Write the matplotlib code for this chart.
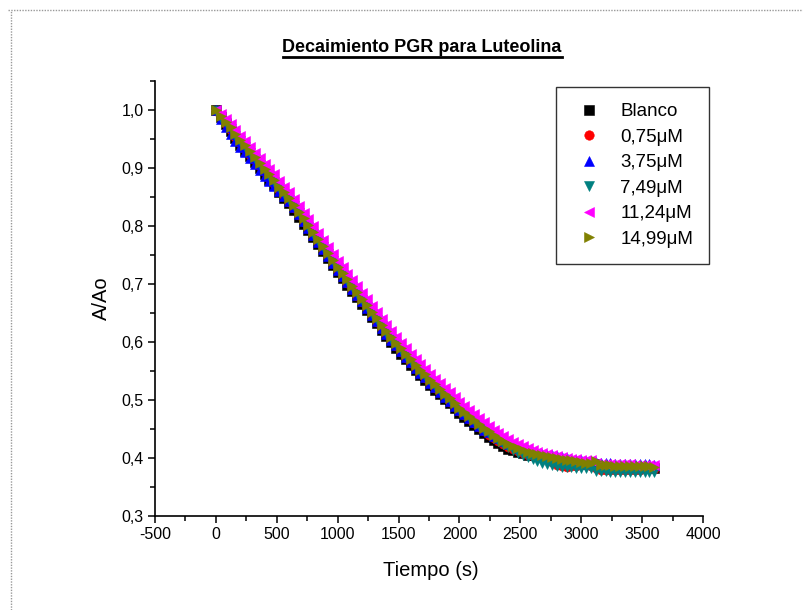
import numpy as np
import matplotlib
matplotlib.use('Agg')
import matplotlib.pyplot as plt
from matplotlib.lines import Line2D
from matplotlib.ticker import MultipleLocator, FuncFormatter

plt.rcParams['font.family'] = ['Liberation Sans', 'DejaVu Sans']

# ---- data ----
tiempo = np.arange(0, 3601, 40)

blanco = [1.000, 0.988, 0.976, 0.964, 0.952, 0.940, 0.930, 0.920, 0.910, 0.900,
          0.890, 0.880, 0.870, 0.859, 0.849, 0.839, 0.828, 0.816, 0.804, 0.793,
          0.781, 0.769, 0.757, 0.745, 0.733, 0.721, 0.710, 0.699, 0.688, 0.677,
          0.666, 0.655, 0.643, 0.632, 0.621, 0.610, 0.600, 0.590, 0.580, 0.570,
          0.561, 0.552, 0.543, 0.535, 0.526, 0.518, 0.510, 0.502, 0.494, 0.486,
          0.478, 0.471, 0.464, 0.457, 0.450, 0.443, 0.437, 0.431, 0.426, 0.421,
          0.416, 0.413, 0.410, 0.408, 0.406, 0.405, 0.404, 0.403, 0.401, 0.400,
          0.398, 0.396, 0.395, 0.394, 0.392, 0.391, 0.390, 0.390, 0.389, 0.386,
          0.386, 0.386, 0.385, 0.385, 0.385, 0.385, 0.384, 0.384, 0.384, 0.384,
          0.383]
c075 = [0.999, 0.988, 0.976, 0.965, 0.953, 0.943, 0.933, 0.923, 0.913, 0.903,
        0.893, 0.883, 0.873, 0.862, 0.852, 0.842, 0.831, 0.819, 0.807, 0.796,
        0.784, 0.772, 0.760, 0.748, 0.736, 0.724, 0.713, 0.702, 0.691, 0.680,
        0.669, 0.658, 0.646, 0.635, 0.624, 0.613, 0.603, 0.593, 0.583, 0.573,
        0.564, 0.555, 0.546, 0.538, 0.529, 0.521, 0.513, 0.505, 0.497, 0.489,
        0.481, 0.474, 0.467, 0.460, 0.453, 0.446, 0.440, 0.434, 0.429, 0.424,
        0.419, 0.415, 0.412, 0.409, 0.406, 0.404, 0.402, 0.400, 0.398, 0.393,
        0.388, 0.386, 0.385, 0.386, 0.387, 0.388, 0.388, 0.387, 0.382, 0.380,
        0.380, 0.379, 0.380, 0.380, 0.380, 0.380, 0.380, 0.380, 0.381, 0.381,
        0.381]
c375 = [1.000, 0.984, 0.970, 0.958, 0.947, 0.937, 0.927, 0.917, 0.907, 0.897,
        0.887, 0.878, 0.869, 0.860, 0.851, 0.843, 0.832, 0.820, 0.808, 0.797,
        0.785, 0.773, 0.761, 0.749, 0.737, 0.725, 0.714, 0.703, 0.692, 0.681,
        0.670, 0.659, 0.647, 0.636, 0.625, 0.614, 0.604, 0.594, 0.584, 0.574,
        0.565, 0.556, 0.547, 0.539, 0.530, 0.522, 0.514, 0.506, 0.498, 0.490,
        0.482, 0.476, 0.469, 0.462, 0.456, 0.449, 0.444, 0.438, 0.434, 0.429,
        0.425, 0.422, 0.418, 0.416, 0.413, 0.411, 0.409, 0.407, 0.406, 0.405,
        0.403, 0.401, 0.400, 0.399, 0.397, 0.396, 0.395, 0.395, 0.393, 0.391,
        0.391, 0.391, 0.390, 0.390, 0.390, 0.390, 0.390, 0.389, 0.389, 0.389,
        0.388]
c749 = [0.998, 0.987, 0.977, 0.967, 0.956, 0.946, 0.936, 0.926, 0.916, 0.906,
        0.896, 0.886, 0.876, 0.865, 0.855, 0.845, 0.834, 0.822, 0.810, 0.799,
        0.787, 0.775, 0.763, 0.751, 0.739, 0.727, 0.716, 0.705, 0.694, 0.683,
        0.672, 0.661, 0.649, 0.638, 0.627, 0.616, 0.606, 0.596, 0.586, 0.576,
        0.567, 0.558, 0.549, 0.541, 0.532, 0.524, 0.516, 0.508, 0.500, 0.492,
        0.484, 0.477, 0.470, 0.463, 0.456, 0.449, 0.442, 0.436, 0.430, 0.424,
        0.419, 0.414, 0.409, 0.405, 0.401, 0.398, 0.395, 0.392, 0.390, 0.388,
        0.386, 0.385, 0.384, 0.384, 0.383, 0.383, 0.383, 0.382, 0.378, 0.377,
        0.377, 0.376, 0.376, 0.376, 0.376, 0.376, 0.376, 0.376, 0.376, 0.376,
        0.376]
c1124 = [1.000, 0.993, 0.985, 0.976, 0.966, 0.956, 0.946, 0.936, 0.926, 0.917,
         0.907, 0.898, 0.889, 0.878, 0.868, 0.858, 0.847, 0.835, 0.823, 0.812,
         0.800, 0.788, 0.776, 0.764, 0.752, 0.740, 0.729, 0.718, 0.707, 0.696,
         0.685, 0.674, 0.662, 0.651, 0.640, 0.629, 0.619, 0.609, 0.599, 0.589,
         0.580, 0.571, 0.562, 0.554, 0.545, 0.537, 0.529, 0.521, 0.513, 0.505,
         0.497, 0.490, 0.483, 0.476, 0.469, 0.462, 0.455, 0.449, 0.443, 0.438,
         0.433, 0.428, 0.424, 0.420, 0.417, 0.414, 0.411, 0.409, 0.407, 0.405,
         0.403, 0.401, 0.400, 0.399, 0.398, 0.397, 0.396, 0.396, 0.391, 0.390,
         0.390, 0.390, 0.389, 0.389, 0.389, 0.389, 0.388, 0.388, 0.388, 0.388,
         0.388]
c1499 = [1.000, 0.990, 0.980, 0.970, 0.959, 0.949, 0.939, 0.929, 0.919, 0.909,
         0.899, 0.889, 0.879, 0.868, 0.858, 0.848, 0.837, 0.825, 0.813, 0.802,
         0.790, 0.778, 0.766, 0.754, 0.742, 0.730, 0.719, 0.708, 0.697, 0.686,
         0.675, 0.664, 0.652, 0.641, 0.630, 0.619, 0.609, 0.599, 0.589, 0.579,
         0.570, 0.561, 0.552, 0.544, 0.535, 0.527, 0.519, 0.511, 0.503, 0.495,
         0.487, 0.480, 0.473, 0.466, 0.459, 0.452, 0.446, 0.440, 0.435, 0.430,
         0.425, 0.421, 0.417, 0.414, 0.411, 0.409, 0.407, 0.405, 0.403, 0.402,
         0.400, 0.398, 0.397, 0.396, 0.394, 0.393, 0.392, 0.392, 0.394, 0.388,
         0.388, 0.388, 0.387, 0.387, 0.387, 0.387, 0.386, 0.386, 0.386, 0.386,
         0.385]

labels = ['Blanco', '0,75\u03bcM', '3,75\u03bcM', '7,49\u03bcM', '11,24\u03bcM', '14,99\u03bcM']
series = [blanco, c075, c375, c749, c1124, c1499]
colors = ['#000000', '#FF0000', '#0000FF', '#008080', '#FF00FF', '#808000']
markers = ['s', 'o', '^', 'v', '<', '>']

xticks = [-500, 0, 500, 1000, 1500, 2000, 2500, 3000, 3500, 4000]
yticks = [0.3, 0.4, 0.5, 0.6, 0.7, 0.8, 0.9, 1.0]

# ---- figure ----
fig = plt.figure(figsize=(8.04, 6.10), dpi=100)
ax = fig.add_axes([155/804, 1-516/610, 548/804, 435/610])

for vals, lab, col, mk in zip(series, labels, colors, markers):
    ax.plot(tiempo, vals, linestyle='none', marker=mk, color=col, ms=6.5,
            mec=col, mew=0.4, label=lab)

ax.set_xlim(-500, 4000)
ax.set_ylim(0.3, 1.05)
for s in ['top', 'right']:
    ax.spines[s].set_visible(False)
for s in ['left', 'bottom']:
    ax.spines[s].set_linewidth(1.2)

ax.set_xticks(xticks)
ax.set_yticks(yticks)
ax.xaxis.set_minor_locator(MultipleLocator(250))
ax.yaxis.set_minor_locator(MultipleLocator(0.05))
ax.xaxis.set_major_formatter(FuncFormatter(lambda v, p: f"{v:.0f}"))
ax.yaxis.set_major_formatter(FuncFormatter(lambda v, p: f"{v:.1f}".replace('.', ',')))
ax.tick_params(which='major', direction='out', length=5, width=1.1, labelsize=11.5, pad=3)
ax.tick_params(which='minor', direction='out', length=3.5, width=1.1)

fig.text(101/804, 1-298/610, 'A/Ao', rotation=90, ha='center', va='center', fontsize=14.5)
fig.text(431/804, 1-570/610, 'Tiempo (s)', ha='center', va='center', fontsize=14.5)

title = fig.text(422/804, 1-47/610, 'Decaimiento PGR para Luteolina', ha='center', va='center',
                 fontsize=13, weight='bold')

leg = ax.legend(loc='upper right', bbox_to_anchor=(709/804, 1-87/610),
                bbox_transform=fig.transFigure, frameon=True, fancybox=False,
                edgecolor='#333333', framealpha=1, fontsize=13.5, numpoints=1,
                borderpad=0.85, handlelength=1.75, handletextpad=0.8,
                labelspacing=0.45, markerscale=1.05, borderaxespad=0)
leg.get_frame().set_linewidth(1.0)

# underline title
fig.canvas.draw()
bb = title.get_window_extent()
W, H = fig.canvas.get_width_height()
fig.add_artist(Line2D([bb.x0/W, bb.x1/W], [(bb.y0 - 1)/H]*2, transform=fig.transFigure,
                      color='black', lw=2.0))

# dotted page border
fig.add_artist(Line2D([8/804, 1.0], [1-9.5/610]*2, transform=fig.transFigure,
                      color='#999999', lw=1.0, linestyle=(0, (1, 1))))
fig.add_artist(Line2D([11/804]*2, [0, 1-9.5/610], transform=fig.transFigure,
                      color='#999999', lw=1.0, linestyle=(0, (1, 1))))

fig.savefig('out.png', dpi=100)
